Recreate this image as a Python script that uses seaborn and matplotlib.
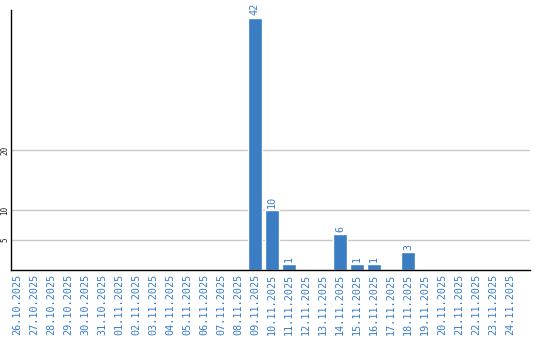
import matplotlib
matplotlib.use("Agg")
import matplotlib.pyplot as plt
import seaborn as sns
import pandas as pd

dates = ["26.10.2025", "27.10.2025", "28.10.2025", "29.10.2025", "30.10.2025",
         "31.10.2025", "01.11.2025", "02.11.2025", "03.11.2025", "04.11.2025",
         "05.11.2025", "06.11.2025", "07.11.2025", "08.11.2025", "09.11.2025",
         "10.11.2025", "11.11.2025", "12.11.2025", "13.11.2025", "14.11.2025",
         "15.11.2025", "16.11.2025", "17.11.2025", "18.11.2025", "19.11.2025",
         "20.11.2025", "21.11.2025", "22.11.2025", "23.11.2025", "24.11.2025"]
values = [0, 0, 0, 0, 0, 0, 0, 0, 0, 0, 0, 0, 0, 0, 42,
          10, 1, 0, 0, 6, 1, 1, 0, 3, 0, 0, 0, 0, 0, 0]
y_ticks = [5, 10, 20]

bar_color = "#3a7dc3"
text_color = "#3a7dc3"

sns.set_style("white")
plt.rcParams["font.family"] = ["DejaVu Sans Mono", "DejaVu Sans"]

df = pd.DataFrame({"date": dates, "value": values})

fig = plt.figure(figsize=(5.4, 3.4), dpi=100)
ax = fig.add_axes([11 / 540, 70 / 340, 519 / 540, 260 / 340])

sns.barplot(data=df, x="date", y="value", color=bar_color, saturation=1,
            width=0.82, ax=ax, zorder=3)

ax.set_ylim(0, 43.3)
ax.set_xlim(-0.35, len(dates) + 0.18)
ax.set_yticks(y_ticks)
ax.set_yticklabels([str(t) for t in y_ticks], rotation=90, va="center",
                   fontsize=5.5, color="#222222")
ax.set_xticks(range(len(dates)))
ax.set_xticklabels(dates, rotation=90, fontsize=7.3, color=text_color)
ax.tick_params(axis="x", length=0, pad=3)
ax.tick_params(axis="y", length=0, pad=1)
ax.set_xlabel("")
ax.set_ylabel("")
ax.grid(axis="y", color="#c8c8c8", linewidth=1, zorder=0)
ax.grid(axis="x", visible=False)

for s in ["top", "right"]:
    ax.spines[s].set_visible(False)
for s in ["left", "bottom"]:
    ax.spines[s].set_color("black")
    ax.spines[s].set_linewidth(1)
    ax.spines[s].set_zorder(4)

for i, v in enumerate(values):
    if v > 0:
        ax.text(i, v + 0.4, str(v), rotation=90, ha="center", va="bottom",
                fontsize=7.3, color=text_color)

fig.savefig("out.png", dpi=100)
